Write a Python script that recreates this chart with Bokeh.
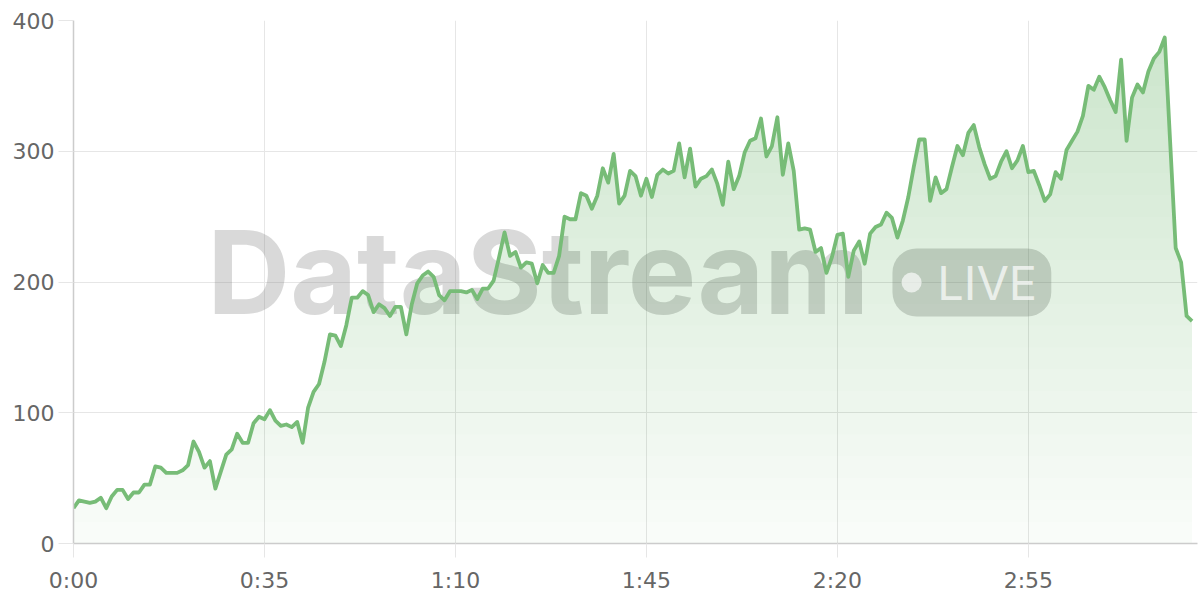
import numpy as np
from bokeh.plotting import figure
from bokeh.models import FixedTicker, Label, BoxAnnotation, Range1d
from bokeh.embed import file_html
from bokeh.resources import INLINE

# ---- data (one value per second) ----
values = [
    27, 33, 32, 31, 32, 35, 27, 36, 41, 41, 34, 39, 39, 45, 45, 59, 58, 54, 54, 54,
    56, 60, 78, 70, 58, 63, 42, 55, 68, 72, 84, 77, 77, 92, 97, 95, 102, 94, 90, 91,
    89, 93, 77, 104, 116, 122, 139, 160, 159, 151, 167, 188, 188, 193, 190, 177, 183, 180, 174, 181,
    181, 160, 183, 199, 205, 208, 204, 190, 186, 193, 193, 193, 192, 194, 187, 195, 195, 201, 219, 238,
    220, 223, 211, 215, 214, 199, 213, 207, 207, 220, 250, 248, 248, 268, 266, 256, 266, 287, 276, 298,
    260, 266, 285, 281, 266, 279, 265, 282, 286, 283, 285, 306, 280, 302, 273, 279, 281, 286, 275, 259,
    292, 271, 281, 299, 308, 310, 325, 296, 304, 326, 282, 306, 285, 240, 241, 240, 223, 226, 207, 219,
    236, 237, 204, 224, 231, 214, 237, 242, 244, 253, 249, 234, 247, 265, 288, 309, 309, 262, 280, 268,
    271, 288, 304, 297, 314, 320, 303, 290, 279, 281, 292, 300, 287, 293, 304, 284, 285, 274, 262, 267,
    284, 279, 301, 308, 315, 327, 350, 347, 357, 349, 339, 330, 370, 308, 341, 351, 345, 361, 371, 376,
    387, 306, 226, 215, 174, 170,
]
seconds = list(range(len(values)))
tick_seconds = [0, 35, 70, 105, 140, 175]
tick_labels = ["0:00", "0:35", "1:10", "1:45", "2:20", "2:55"]
y_ticks = [0, 100, 200, 300, 400]

LINE = "#77bc77"
FILLC = "#4caf50"
TXT = "#666666"
FONT = "Inter"
AXFONT = "DejaVu Sans"

p = figure(width=1200, height=600, output_backend="svg", toolbar_location=None,
           x_range=Range1d(0, 206), y_range=Range1d(0, 400),
           min_border_left=73, min_border_right=3, min_border_top=20, min_border_bottom=57)
p.outline_line_color = None
p.background_fill_color = "white"
p.border_fill_color = "white"

# watermark
p.add_layout(Label(x=24.5, y=207.6, text="DataStream", text_font=FONT, text_font_style="bold",
                   text_font_size="115px", text_color="#777777", text_alpha=0.28,
                   text_align="left", text_baseline="middle", level="underlay"))
p.add_layout(BoxAnnotation(left=150.1, right=179.2, bottom=173.6, top=225.6,
                           fill_color="#777777", fill_alpha=0.28, line_alpha=0,
                           border_radius=24, level="underlay"))

# gradient fill under the curve (stacked translucent layers)
v = np.array(values, dtype=float)
p.varea(x=seconds, y1=np.zeros_like(v), y2=v, fill_color=FILLC, fill_alpha=0.035)
n_layers = 24
for k in range(1, n_layers):
    lo = 400.0 * k / n_layers
    p.varea(x=seconds, y1=np.minimum(v, lo), y2=v, fill_color=FILLC, fill_alpha=0.012)

p.line(x=seconds, y=values, line_color=LINE, line_width=3.8, line_join="round")

# LIVE badge contents
p.scatter(x=[153.6], y=[199.6], size=20, marker="circle", fill_color="white",
          fill_alpha=0.65, line_alpha=0)
p.add_layout(Label(x=158.3, y=199.6, text="LIVE", text_font=FONT, text_font_style="normal",
                   text_font_size="47px", text_color="white", text_alpha=0.7,
                   text_align="left", text_baseline="middle"))

# axes & grid
p.xaxis.ticker = FixedTicker(ticks=tick_seconds)
p.xaxis.major_label_overrides = {t: l for t, l in zip(tick_seconds, tick_labels)}
p.yaxis.ticker = FixedTicker(ticks=y_ticks)
for ax in (p.xaxis, p.yaxis):
    ax.axis_line_color = "#cccccc"
    ax.axis_line_width = 1.5
    ax.major_tick_line_color = "#e6e6e6"
    ax.major_tick_in = 0
    ax.minor_tick_line_color = None
    ax.major_label_text_font = AXFONT
    ax.major_label_text_font_size = "22px"
    ax.major_label_text_color = TXT
p.xaxis.major_tick_out = 14
p.xaxis.major_label_standoff = 10
p.yaxis.major_tick_out = 15
p.yaxis.major_label_standoff = 4
p.xgrid.ticker = FixedTicker(ticks=tick_seconds)
p.ygrid.ticker = FixedTicker(ticks=y_ticks)
p.grid.grid_line_color = "#e6e6e6"
p.grid.grid_line_width = 1

open("out.html", "w").write(file_html(p, INLINE))
